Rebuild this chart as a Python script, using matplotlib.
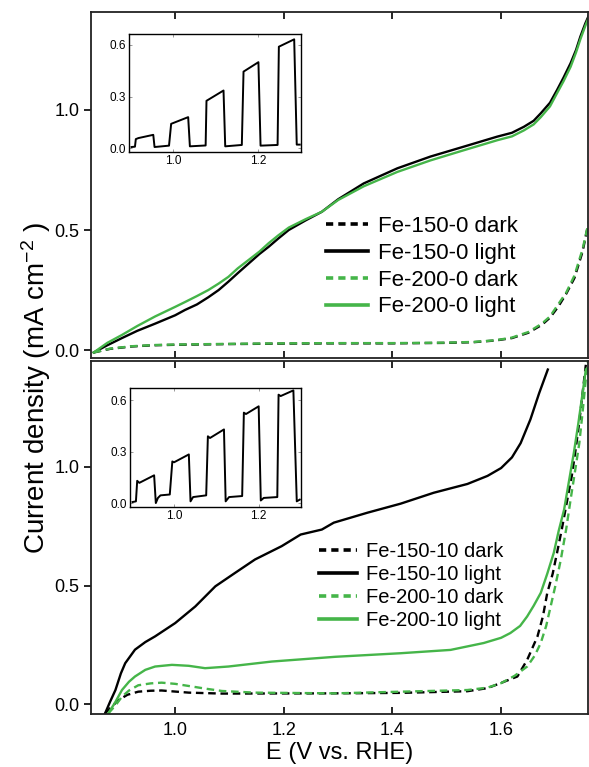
import matplotlib
matplotlib.use('Agg')
import matplotlib.pyplot as plt

plt.rcParams['font.family'] = ['Liberation Sans', 'DejaVu Sans']
plt.rcParams['mathtext.fontset'] = 'custom'
plt.rcParams['mathtext.rm'] = 'Liberation Sans'
plt.rcParams['mathtext.it'] = 'Liberation Sans'

GREEN = '#45b549'

# ---- top panel: Fe-150-0 / Fe-200-0 ----
E_150_0_dark = [0.85, 0.88, 0.92, 0.96, 1.0, 1.1, 1.2, 1.3, 1.4, 1.5, 1.55, 1.59, 1.62, 1.65, 1.675,
                1.69, 1.705, 1.72, 1.735, 1.75, 1.76]
j_150_0_dark = [-0.01, 0.005, 0.015, 0.02, 0.022, 0.025, 0.027, 0.028, 0.028, 0.03, 0.033, 0.04, 0.05,
                0.072, 0.105, 0.135, 0.18, 0.235, 0.30, 0.41, 0.52]
E_200_0_dark = [0.85, 0.88, 0.92, 0.96, 1.0, 1.1, 1.2, 1.3, 1.4, 1.5, 1.55, 1.59, 1.62, 1.65, 1.675,
                1.69, 1.705, 1.72, 1.735, 1.75, 1.762]
j_200_0_dark = [-0.01, 0.006, 0.016, 0.021, 0.023, 0.026, 0.028, 0.029, 0.029, 0.031, 0.034, 0.041, 0.052,
                0.075, 0.11, 0.14, 0.19, 0.24, 0.31, 0.42, 0.54]

E_150_0_light = [0.85, 0.875, 0.902, 0.93, 0.963, 1.0, 1.018, 1.04, 1.061, 1.08, 1.098, 1.115, 1.135,
                 1.155, 1.172, 1.19, 1.209, 1.24, 1.27, 1.30, 1.347, 1.409, 1.47, 1.531, 1.593, 1.62,
                 1.642, 1.66, 1.673, 1.69, 1.703, 1.715, 1.728, 1.738, 1.746, 1.755, 1.762]
j_150_0_light = [-0.01, 0.02, 0.05, 0.08, 0.11, 0.145, 0.167, 0.19, 0.22, 0.25, 0.285, 0.32, 0.36,
                 0.40, 0.43, 0.465, 0.50, 0.54, 0.576, 0.628, 0.694, 0.757, 0.806, 0.847, 0.889, 0.905,
                 0.93, 0.955, 0.986, 1.03, 1.083, 1.135, 1.195, 1.25, 1.306, 1.36, 1.396]
E_200_0_light = [0.85, 0.875, 0.902, 0.93, 0.963, 1.0, 1.018, 1.04, 1.061, 1.08, 1.098, 1.115, 1.135,
                 1.155, 1.172, 1.19, 1.209, 1.24, 1.27, 1.30, 1.347, 1.409, 1.47, 1.531, 1.593, 1.62,
                 1.642, 1.66, 1.673, 1.69, 1.703, 1.715, 1.728, 1.738, 1.746, 1.755, 1.764]
j_200_0_light = [-0.01, 0.03, 0.063, 0.10, 0.14, 0.18, 0.20, 0.225, 0.25, 0.277, 0.305, 0.34, 0.375,
                 0.41, 0.445, 0.478, 0.51, 0.545, 0.576, 0.625, 0.682, 0.742, 0.79, 0.832, 0.874, 0.89,
                 0.915, 0.94, 0.97, 1.015, 1.07, 1.12, 1.18, 1.24, 1.295, 1.35, 1.40]

# ---- bottom panel: Fe-150-10 / Fe-200-10 ----
E_150_10_dark = [0.871, 0.883, 0.896, 0.912, 0.932, 0.955, 0.975, 1.025, 1.086, 1.295, 1.415, 1.538,
                 1.575, 1.6, 1.63, 1.648, 1.667, 1.677, 1.685, 1.695, 1.703, 1.712, 1.722, 1.73, 1.737,
                 1.744, 1.75, 1.756]
j_150_10_dark = [-0.038, -0.01, 0.018, 0.04, 0.053, 0.057, 0.058, 0.049, 0.045, 0.046, 0.048, 0.055,
                 0.068, 0.09, 0.117, 0.187, 0.286, 0.37, 0.469, 0.55, 0.638, 0.74, 0.863, 0.96, 1.07,
                 1.19, 1.31, 1.43]
E_200_10_dark = [0.877, 0.89, 0.902, 0.915, 0.932, 0.955, 0.975, 1.0, 1.025, 1.055, 1.086, 1.147, 1.295,
                 1.415, 1.538, 1.575, 1.6, 1.625, 1.648, 1.662, 1.673, 1.683, 1.691, 1.70, 1.71, 1.72,
                 1.728, 1.736, 1.744, 1.75, 1.756, 1.76]
j_200_10_dark = [-0.038, -0.005, 0.032, 0.058, 0.08, 0.088, 0.091, 0.086, 0.077, 0.066, 0.056, 0.049,
                 0.046, 0.053, 0.06, 0.07, 0.089, 0.12, 0.159, 0.205, 0.258, 0.33, 0.41, 0.50, 0.61,
                 0.74, 0.863, 0.98, 1.10, 1.23, 1.37, 1.45]
E_150_10_light = [0.871, 0.88, 0.89, 0.9, 0.908, 0.926, 0.945, 0.963, 1.0, 1.037, 1.074, 1.11, 1.147,
                  1.196, 1.231, 1.27, 1.292, 1.354, 1.415, 1.476, 1.538, 1.575, 1.6, 1.62, 1.636, 1.654,
                  1.67, 1.686]
j_150_10_light = [-0.038, 0.01, 0.06, 0.13, 0.173, 0.23, 0.262, 0.286, 0.342, 0.412, 0.497, 0.553,
                  0.61, 0.666, 0.715, 0.736, 0.765, 0.807, 0.845, 0.891, 0.928, 0.962, 0.995, 1.04,
                  1.10, 1.20, 1.31, 1.41]
E_200_10_light = [0.877, 0.89, 0.902, 0.915, 0.926, 0.945, 0.963, 0.994, 1.025, 1.055, 1.098, 1.178,
                  1.295, 1.415, 1.507, 1.568, 1.6, 1.617, 1.635, 1.648, 1.66, 1.673, 1.685, 1.697,
                  1.706, 1.716, 1.725, 1.734, 1.742, 1.75, 1.756]
j_200_10_light = [-0.038, 0.01, 0.06, 0.095, 0.117, 0.145, 0.159, 0.166, 0.162, 0.152, 0.159, 0.18,
                  0.20, 0.215, 0.229, 0.258, 0.28, 0.30, 0.33, 0.37, 0.415, 0.469, 0.55, 0.638, 0.73,
                  0.82, 0.94, 1.06, 1.18, 1.31, 1.41]

# ---- insets: chopped light ----
E_chop_0 = [0.902, 0.910, 0.912, 0.918, 0.953, 0.956, 0.99, 0.995, 1.035, 1.039, 1.076, 1.078, 1.118,
            1.122, 1.161, 1.165, 1.20, 1.205, 1.245, 1.248, 1.284, 1.29, 1.297]
j_chop_0 = [0.006, 0.008, 0.052, 0.058, 0.077, 0.006, 0.014, 0.141, 0.18, 0.01, 0.015, 0.275, 0.335,
            0.01, 0.018, 0.445, 0.50, 0.014, 0.018, 0.59, 0.633, 0.02, 0.02]
E_chop_10 = [0.902, 0.910, 0.913, 0.918, 0.953, 0.957, 0.962, 0.968, 0.99, 0.996, 1.0, 1.035, 1.039,
             1.045, 1.076, 1.08, 1.085, 1.118, 1.122, 1.13, 1.161, 1.165, 1.17, 1.20, 1.205, 1.212,
             1.244, 1.247, 1.252, 1.282, 1.29, 1.297]
j_chop_10 = [0.006, 0.01, 0.13, 0.118, 0.162, 0.0, 0.03, 0.045, 0.05, 0.243, 0.238, 0.284, 0.01,
             0.035, 0.045, 0.39, 0.38, 0.43, 0.01, 0.035, 0.041, 0.528, 0.52, 0.565, 0.015, 0.03,
             0.035, 0.633, 0.625, 0.658, 0.01, 0.02]

labels_top = ['Fe-150-0 dark', 'Fe-150-0 light', 'Fe-200-0 dark', 'Fe-200-0 light']
labels_bot = ['Fe-150-10 dark', 'Fe-150-10 light', 'Fe-200-10 dark', 'Fe-200-10 light']

fig = plt.figure(figsize=(5.89, 7.67), dpi=100)
W, H = 589.0, 767.0


def px_axes(x0, y0, x1, y1):
    return fig.add_axes([x0 / W, 1 - y1 / H, (x1 - x0) / W, (y1 - y0) / H])


def style_main(ax, ylim, show_x):
    ax.set_xlim(0.845, 1.76)
    ax.set_ylim(*ylim)
    ax.set_xticks([1.0, 1.2, 1.4, 1.6])
    ax.set_yticks([0.0, 0.5, 1.0])
    ax.tick_params(axis='x', direction='in', top=True, length=5, width=1.2,
                   labelsize=13, labelbottom=show_x, pad=6)
    ax.tick_params(axis='y', direction='out', length=5, width=1.2, labelsize=13)
    for s in ax.spines.values():
        s.set_linewidth(1.3)
        s.set_color('#222222')
    ax.yaxis.set_major_formatter(matplotlib.ticker.FormatStrFormatter('%.1f'))
    ax.xaxis.set_major_formatter(matplotlib.ticker.FormatStrFormatter('%.1f'))


def style_inset(ax, ylim):
    ax.set_xlim(0.896, 1.30)
    ax.set_ylim(*ylim)
    ax.set_xticks([1.0, 1.2])
    ax.set_yticks([0.0, 0.3, 0.6])
    ax.tick_params(direction='in', length=2, width=0.6, labelsize=8.5, pad=2,
                   top=True, right=True, color='#888888')
    for s in ax.spines.values():
        s.set_linewidth(1.0)
    ax.yaxis.set_major_formatter(matplotlib.ticker.FormatStrFormatter('%.1f'))
    ax.xaxis.set_major_formatter(matplotlib.ticker.FormatStrFormatter('%.1f'))


lw = 1.7
dash = (3.2, 2.0)

# top panel
ax1 = px_axes(91, 12, 588, 358)
ax1.plot(E_150_0_dark, j_150_0_dark, color='black', lw=lw, dashes=dash, label=labels_top[0])
ax1.plot(E_150_0_light, j_150_0_light, color='black', lw=lw, label=labels_top[1])
ax1.plot(E_200_0_dark, j_200_0_dark, color=GREEN, lw=lw, dashes=dash, label=labels_top[2])
ax1.plot(E_200_0_light, j_200_0_light, color=GREEN, lw=lw, label=labels_top[3])
style_main(ax1, (-0.033, 1.408), False)
leg1 = ax1.legend(loc='upper left', bbox_to_anchor=(315 / W, 1 - 205 / H),
                  bbox_transform=fig.transFigure, frameon=False, fontsize=16,
                  handlelength=1.9, handletextpad=0.45, labelspacing=0.26, borderpad=0)
for h in leg1.legend_handles:
    h.set_linewidth(2.6)
    h.set_dashes((2.0, 1.4)) if h.get_linestyle() != '-' else None

# bottom panel
ax2 = px_axes(91, 361, 588, 714)
ax2.plot(E_150_10_dark, j_150_10_dark, color='black', lw=lw, dashes=dash, label=labels_bot[0])
ax2.plot(E_150_10_light, j_150_10_light, color='black', lw=lw, label=labels_bot[1])
ax2.plot(E_200_10_dark, j_200_10_dark, color=GREEN, lw=lw, dashes=dash, label=labels_bot[2])
ax2.plot(E_200_10_light, j_200_10_light, color=GREEN, lw=lw, label=labels_bot[3])
style_main(ax2, (-0.041, 1.446), True)
ax2.set_xlabel('E (V vs. RHE)', fontsize=17, labelpad=2)
leg2 = ax2.legend(loc='upper left', bbox_to_anchor=(309 / W, 1 - 532 / H),
                  bbox_transform=fig.transFigure, frameon=False, fontsize=14.5,
                  handlelength=1.9, handletextpad=0.45, labelspacing=0.2, borderpad=0)
for h in leg2.legend_handles:
    h.set_linewidth(2.6)
    h.set_dashes((2.0, 1.4)) if h.get_linestyle() != '-' else None

fig.text(36 / W, 1 - 388 / H, 'Current density (mA cm$^{-2}$ )', rotation=90,
         ha='center', va='center', fontsize=20)

# insets
ins1 = px_axes(129, 34, 301, 152)
ins1.plot(E_chop_0, j_chop_0, color='black', lw=1.4)
style_inset(ins1, (-0.023, 0.664))

ins2 = px_axes(130, 388, 301, 507)
ins2.plot(E_chop_10, j_chop_10, color='black', lw=1.4)
style_inset(ins2, (-0.023, 0.672))

fig.savefig('out.png', dpi=100)
